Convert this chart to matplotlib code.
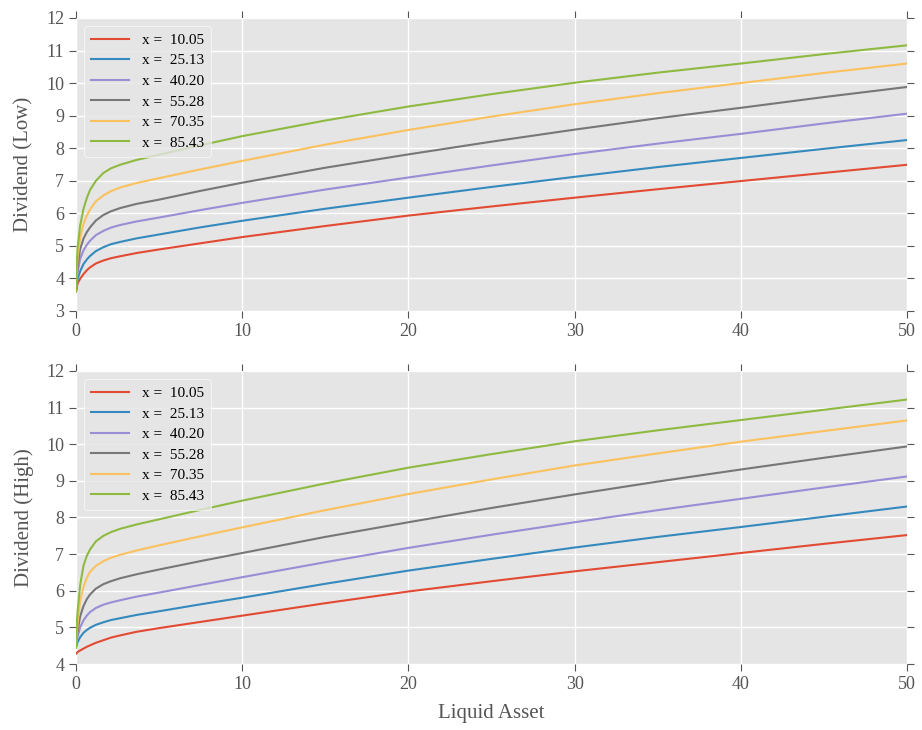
import matplotlib
matplotlib.use("Agg")
import matplotlib.pyplot as plt

plt.style.use("ggplot")

# Liquid asset grid
liquid = [0, 0.05, 0.1, 0.25, 0.45, 0.65, 0.85, 1.2, 1.65, 2.1, 2.65, 3.65,
          5, 7.5, 10, 15, 20, 25, 30, 35, 40, 45, 50]

labels = ["x =  10.05", "x =  25.13", "x =  40.20",
          "x =  55.28", "x =  70.35", "x =  85.43"]

# Dividend, low state
low_1 = [3.6, 3.75, 3.85, 3.99, 4.13, 4.25, 4.34, 4.46, 4.55, 4.62, 4.68, 4.78,
         4.89, 5.08, 5.27, 5.61, 5.93, 6.21, 6.48, 6.74, 6.99, 7.24, 7.49]
low_2 = [3.6, 3.85, 3.98, 4.22, 4.44, 4.58, 4.69, 4.84, 4.96, 5.05, 5.12, 5.23,
         5.35, 5.57, 5.77, 6.14, 6.48, 6.81, 7.12, 7.42, 7.70, 7.98, 8.25]
low_3 = [3.6, 4.00, 4.20, 4.60, 4.86, 5.03, 5.16, 5.33, 5.46, 5.56, 5.64, 5.75,
         5.87, 6.10, 6.32, 6.73, 7.10, 7.47, 7.82, 8.14, 8.44, 8.76, 9.06]
low_4 = [3.6, 4.10, 4.38, 4.90, 5.22, 5.42, 5.57, 5.78, 5.95, 6.06, 6.16, 6.29,
         6.42, 6.69, 6.94, 7.40, 7.81, 8.20, 8.57, 8.92, 9.24, 9.57, 9.88]
low_5 = [3.6, 4.30, 4.65, 5.25, 5.67, 5.93, 6.12, 6.37, 6.55, 6.68, 6.79, 6.93,
         7.08, 7.35, 7.61, 8.11, 8.56, 8.97, 9.35, 9.69, 10.00, 10.31, 10.60]
low_6 = [3.6, 4.50, 4.95, 5.62, 6.13, 6.47, 6.72, 7.00, 7.24, 7.38, 7.49, 7.64,
         7.80, 8.09, 8.37, 8.85, 9.28, 9.66, 10.01, 10.32, 10.60, 10.89, 11.16]

# Dividend, high state
high_1 = [4.28, 4.30, 4.33, 4.37, 4.42, 4.47, 4.51, 4.58, 4.65, 4.72, 4.78, 4.88,
          4.98, 5.15, 5.32, 5.66, 5.98, 6.26, 6.53, 6.78, 7.03, 7.28, 7.52]
high_2 = [4.45, 4.53, 4.60, 4.73, 4.85, 4.93, 4.99, 5.07, 5.14, 5.20, 5.25, 5.34,
          5.44, 5.63, 5.81, 6.19, 6.55, 6.87, 7.18, 7.47, 7.74, 8.02, 8.30]
high_3 = [4.45, 4.62, 4.75, 5.00, 5.19, 5.32, 5.42, 5.53, 5.62, 5.68, 5.74, 5.84,
          5.95, 6.16, 6.37, 6.78, 7.17, 7.53, 7.87, 8.20, 8.51, 8.82, 9.12]
high_4 = [4.45, 4.72, 4.90, 5.30, 5.58, 5.77, 5.90, 6.06, 6.18, 6.26, 6.34, 6.45,
          6.58, 6.81, 7.03, 7.47, 7.87, 8.26, 8.63, 8.98, 9.31, 9.63, 9.94]
high_5 = [4.45, 4.85, 5.12, 5.72, 6.10, 6.35, 6.52, 6.68, 6.81, 6.90, 6.98, 7.10,
          7.24, 7.49, 7.73, 8.20, 8.64, 9.04, 9.42, 9.75, 10.07, 10.36, 10.65]
high_6 = [4.45, 5.10, 5.45, 6.15, 6.68, 6.95, 7.13, 7.35, 7.50, 7.60, 7.69, 7.81,
          7.95, 8.21, 8.46, 8.93, 9.36, 9.73, 10.08, 10.38, 10.66, 10.94, 11.22]

low = [low_1, low_2, low_3, low_4, low_5, low_6]
high = [high_1, high_2, high_3, high_4, high_5, high_6]
colors = ["#E24A33", "#348ABD", "#988ED5", "#777777", "#FBC15E", "#8EBA42"]

plt.rcParams["font.family"] = ["Liberation Serif", "DejaVu Serif"]

fig = plt.figure(figsize=(9.22, 7.3), dpi=100)
ax1 = fig.add_axes([0.0824, 0.574, 0.9013, 0.4014])
ax2 = fig.add_axes([0.0824, 0.0904, 0.9013, 0.4014])

for ax, series, ylab, ylim in [(ax1, low, "Dividend (Low)", (3, 12)),
                               (ax2, high, "Dividend (High)", (4, 12))]:
    for ys, c, lab in zip(series, colors, labels):
        ax.plot(liquid, ys, color=c, lw=1.5, label=lab)
    ax.set_xlim(0, 50)
    ax.set_ylim(*ylim)
    ax.set_yticks(range(ylim[0], ylim[1] + 1))
    ax.set_xticks(range(0, 51, 10))
    ax.set_ylabel(ylab, fontsize=15, color="#555555", labelpad=9)
    ax.tick_params(axis="both", which="both", direction="out", length=5,
                   top=True, right=True, labelsize=13, colors="#555555")
    ax.grid(True, color="white", lw=1)
    for s in ax.spines.values():
        s.set_visible(False)
    leg = ax.legend(loc="upper left", fontsize=11, frameon=True,
                    handlelength=2.5, borderpad=0.5, labelspacing=0.45)
    leg.get_frame().set_facecolor("#E5E5E5")
    leg.get_frame().set_edgecolor("white")
    for t in leg.get_texts():
        t.set_color("black")

ax2.set_xlabel("Liquid Asset", fontsize=15, color="#555555", labelpad=8)

fig.savefig("out.png", dpi=100)
